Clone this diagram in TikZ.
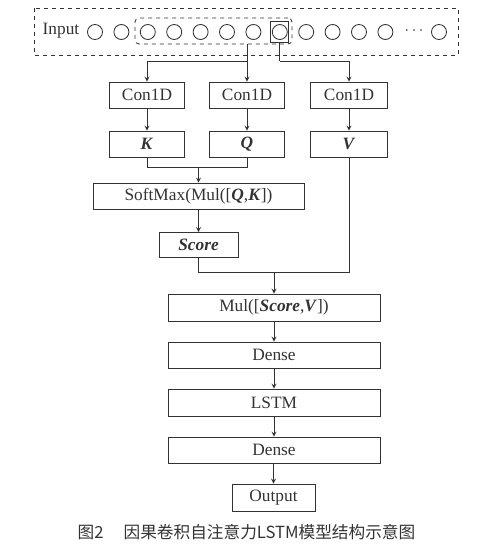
\documentclass[tikz,border=0pt]{standalone}
\usepackage{fontspec}
\setmainfont{Liberation Serif}
\newfontfamily\cjk{Noto Sans CJK SC}
\usetikzlibrary{arrows, shapes, calc}
\definecolor{ink}{HTML}{333333}
\def\u{0.75pt}
\tikzset{box/.style = {draw=ink, text=ink, minimum height=26*\u, inner sep=0pt}}
\tikzset{cell/.style = {circle, draw=ink, minimum size=15*\u, inner sep=0pt}}
\tikzset{link/.style = {draw=ink, -stealth}}
\newcommand{\bi}[1]{\textbf{\textit{#1}}}

\begin{document}
\begin{tikzpicture}[x=\u, y=-\u, font=\fontsize{13}{15}\selectfont, line width=0.65pt]
	\useasboundingbox (0,0) rectangle (487,554);
	\def\S{26.4}
	
	% input sequence
	\draw[ink, dashed]	(34,8) rectangle (458,55);
	\node[text=ink] (input) at (61,31) {Input};
	\foreach \i in {0,...,11}
		\node[cell] (c\i) at ({95+\S*\i},32) {};
	\node[text=ink] (dots) at (414,31) {$\cdots$};
	\node[cell] (clast) at (439,32) {};
	\node[draw=ink, dashed, rounded corners=4*\u, minimum width=157*\u, minimum height=26*\u] (win) at (213.5,31) {};
	\node[draw=ink, minimum width=18*\u, minimum height=21*\u, inner sep=0pt] (cur) at (c7) {};
	
	% conv branches
	\node[box, minimum width=75*\u] (ck) at (147,95) {Con1D};
	\node[box, minimum width=75*\u] (cq) at (247,95) {Con1D};
	\node[box, minimum width=77*\u] (cv) at (349,95) {Con1D};
	\node[box, minimum width=75*\u] (k) at (147,144) {\bi{K}};
	\node[box, minimum width=75*\u] (q) at (247,144) {\bi{Q}};
	\node[box, minimum width=77*\u] (v) at (349,144) {\bi{V}};
	
	\node[box, minimum width=211*\u] (sm) at (198.5,196) {SoftMax(Mul([\bi{Q},\bi{K}])};
	\node[box, minimum width=79*\u, minimum height=25*\u] (score) at (198.5,245) {\bi{Score}};
	\node[box, minimum width=212*\u, minimum height=27*\u] (mul) at (274,307.5) {Mul([\bi{Score},\bi{V}])};
	\node[box, minimum width=212*\u] (d1) at (274,355) {Dense};
	\node[box, minimum width=212*\u, minimum height=27*\u] (lstm) at (274,402.5) {LSTM};
	\node[box, minimum width=212*\u] (d2) at (274,450) {Dense};
	\node[box, minimum width=83*\u, minimum height=27*\u] (out) at (273.5,497.5) {Output};
	
	\coordinate (split) at (247,61);
	\coordinate (vsplit) at (cur.south |- split);
	\coordinate (kq) at (198.5,167);
	\coordinate (sv) at (274,272);
	
	\draw[ink]	(win.south -| split) -- (split);
	\draw[link]	(split) -| (ck);
	\draw[link]	(split) -- (cq);
	\draw[ink]	(cur.south) -- (vsplit);
	\draw[link]	(vsplit) -| (cv);
	\draw[link]	(ck) -- (k);
	\draw[link]	(cq) -- (q);
	\draw[link]	(cv) -- (v);
	\draw[ink]	(k) |- (kq);
	\draw[ink]	(q) |- (kq);
	\draw[link]	(kq) -- (sm);
	\draw[link]	(sm.south -| score) -- (score);
	\draw[ink]	(score) |- (sv);
	\draw[ink]	(v) |- (sv);
	\draw[link]	(sv) -- (mul);
	\draw[link]	(mul) -- (d1);
	\draw[link]	(d1) -- (lstm);
	\draw[link]	(lstm) -- (d2);
	\draw[link]	(d2.south -| out) -- (out);
	
	\node[text=ink, font=\cjk\fontsize{12.5}{15}\selectfont] (cap) at (246.5,532) {图2\hspace{1.2em}因果卷积自注意力LSTM模型结构示意图};
\end{tikzpicture}
\end{document}
